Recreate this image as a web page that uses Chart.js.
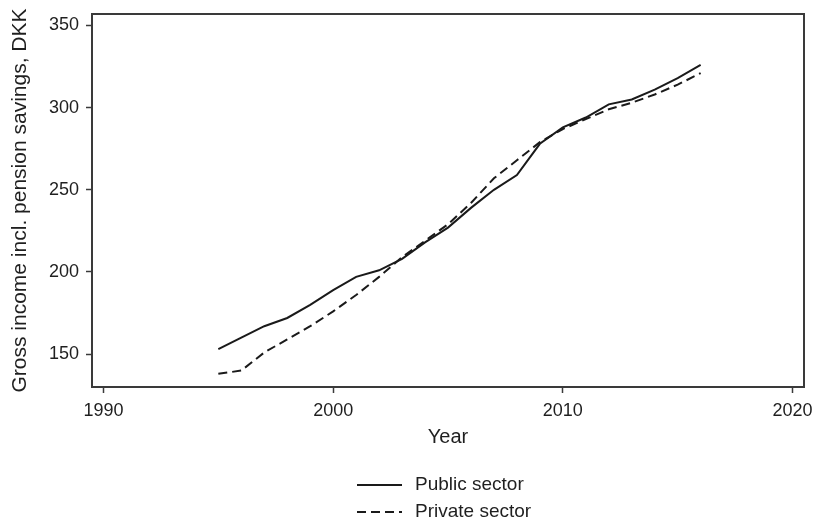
<!DOCTYPE html>
<html>
<head>
<meta charset="utf-8">
<script src="https://cdn.jsdelivr.net/npm/chart.js@4/dist/chart.umd.min.js"></script>
<style>
  html, body { margin: 0; padding: 0; background: #ffffff; }
  canvas { display: block; }
</style>
</head>
<body>
<canvas id="chart" width="814" height="525"></canvas>
<script>
// Gross income including pension savings (DKK, thousands) by sector
const years = [1995, 1996, 1997, 1998, 1999, 2000, 2001, 2002, 2003, 2004, 2005,
               2006, 2007, 2008, 2009, 2010, 2011, 2012, 2013, 2014, 2015, 2016];
const publicSector  = [153, 160, 167, 172, 180, 189, 197, 201, 208, 218, 227,
                       239, 250, 259, 278, 288, 294, 302, 305, 311, 318, 326];
const privateSector = [138, 140, 151, 159, 167, 176, 186, 197, 209, 219, 229,
                       242, 257, 268, 279, 287, 293, 299, 303, 308, 314, 321];
const seriesLabels = ['Public sector', 'Private sector'];
const xTicks = [1990, 2000, 2010, 2020];
const yTicks = [150, 200, 250, 300, 350];
const xTitle = 'Year';
const yTitle = 'Gross income incl. pension savings, DKK';

const FONT = "'Liberation Sans', Arial, Helvetica, sans-serif";
const INK = '#1f1f1f';
const AXIS = '#3a3a3a';

const toPoints = (xs, ys) => xs.map((x, i) => ({ x: x, y: ys[i] }));

// Box around the plotting region
const frame = {
  id: 'frame',
  afterDraw(chart) {
    const { ctx, chartArea: a } = chart;
    ctx.save();
    ctx.strokeStyle = AXIS;
    ctx.lineWidth = 2;
    ctx.strokeRect(a.left, a.top, a.right - a.left, a.bottom - a.top);
    ctx.restore();
  }
};

// Stacked legend under the x-axis title
const stackedLegend = {
  id: 'stackedLegend',
  afterDraw(chart, args, opts) {
    const ctx = chart.ctx;
    ctx.save();
    chart.data.datasets.forEach((ds, i) => {
      const y = opts.rowY[i];
      ctx.beginPath();
      ctx.setLineDash(ds.borderDash || []);
      ctx.lineWidth = ds.borderWidth;
      ctx.strokeStyle = ds.borderColor;
      ctx.moveTo(opts.lineX0, y);
      ctx.lineTo(opts.lineX1, y);
      ctx.stroke();
      ctx.setLineDash([]);
      ctx.fillStyle = INK;
      ctx.font = opts.font;
      ctx.textAlign = 'left';
      ctx.textBaseline = 'middle';
      ctx.fillText(ds.label, opts.textX, y);
    });
    ctx.restore();
  }
};

new Chart(document.getElementById('chart'), {
  type: 'line',
  data: {
    datasets: [
      {
        label: seriesLabels[0],
        data: toPoints(years, publicSector),
        borderColor: '#1a1a1a',
        borderWidth: 2,
        pointRadius: 0,
        tension: 0,
        fill: false
      },
      {
        label: seriesLabels[1],
        data: toPoints(years, privateSector),
        borderColor: '#1a1a1a',
        borderWidth: 2,
        borderDash: [9, 5],
        pointRadius: 0,
        tension: 0,
        fill: false
      }
    ]
  },
  options: {
    responsive: false,
    animation: false,
    devicePixelRatio: 1,
    layout: { padding: { top: 14, right: 10, left: 0, bottom: 76 } },
    plugins: {
      legend: { display: false },
      tooltip: { enabled: false },
      stackedLegend: {
        rowY: [485, 512],
        lineX0: 357,
        lineX1: 402,
        textX: 415,
        font: '19px ' + FONT
      }
    },
    scales: {
      x: {
        type: 'linear',
        min: 1989.5,
        max: 2020.5,
        afterFit(s) {
          s.height = 62;
          s.paddingLeft = 0;
          s.paddingRight = 0;
        },
        afterBuildTicks(s) { s.ticks = xTicks.map(v => ({ value: v })); },
        border: { display: false },
        grid: {
          display: true,
          drawOnChartArea: false,
          drawTicks: true,
          tickLength: 6,
          tickWidth: 1.5,
          tickColor: AXIS
        },
        ticks: {
          padding: 7,
          color: INK,
          font: { family: FONT, size: 18 },
          maxRotation: 0,
          callback: v => String(v)
        },
        title: {
          display: true,
          text: xTitle,
          color: INK,
          font: { family: FONT, size: 20 },
          padding: { top: 0, bottom: 0 }
        }
      },
      y: {
        type: 'linear',
        min: 130,
        max: 357,
        afterFit(s) {
          s.width = 92;
          s.paddingTop = 0;
          s.paddingBottom = 0;
        },
        afterBuildTicks(s) { s.ticks = yTicks.map(v => ({ value: v })); },
        border: { display: false },
        grid: {
          display: true,
          drawOnChartArea: false,
          drawTicks: true,
          tickLength: 6,
          tickWidth: 1.5,
          tickColor: AXIS
        },
        ticks: {
          padding: 7,
          color: INK,
          font: { family: FONT, size: 18 },
          callback: v => String(v)
        },
        title: {
          display: true,
          text: yTitle,
          color: INK,
          font: { family: FONT, size: 21 },
          padding: { top: 8, bottom: 0 }
        }
      }
    }
  },
  plugins: [frame, stackedLegend]
});
</script>
</body>
</html>
